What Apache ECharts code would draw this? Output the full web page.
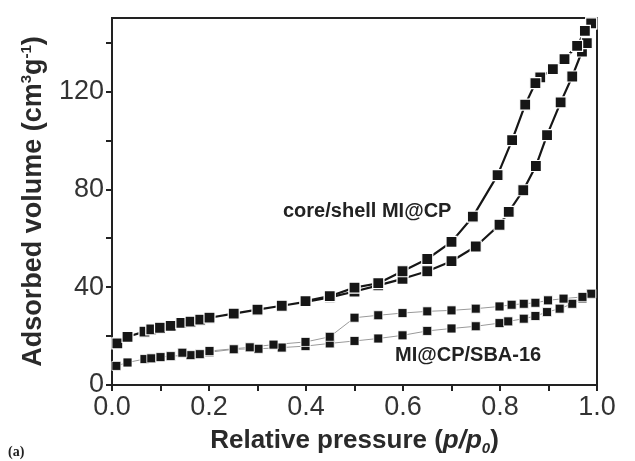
<!DOCTYPE html>
<html><head><meta charset="utf-8">
<script src="https://cdn.jsdelivr.net/npm/echarts@6/dist/echarts.min.js"></script>
<style>html,body{margin:0;padding:0;background:#fff}#c{width:635px;height:461px}</style>
</head><body><div id="c"></div>
<script>
// Core/shell MI@CP — adsorption branch [p/p0, volume]
var coreAds = [[0.011,17.0],[0.032,19.7],[0.067,21.8],[0.081,22.7],[0.099,23.4],[0.121,24.2],[0.143,25.4],[0.162,25.9],[0.182,26.7],[0.201,27.5],[0.251,29.2],[0.300,30.8],[0.350,32.4],[0.399,34.0],[0.449,35.8],[0.500,38.2],[0.549,40.7],[0.599,43.4],[0.650,46.5],[0.700,50.6],[0.750,56.6],[0.799,65.5],[0.818,70.8],[0.848,79.6],[0.874,89.5],[0.897,102.1],[0.925,115.5],[0.949,126.1],[0.969,136.3],[0.979,139.7],[0.988,147.8]];
// Core/shell MI@CP — desorption branch
var coreDes = [[0.988,147.8],[0.975,144.7],[0.959,138.6],[0.933,133.2],[0.909,129.1],[0.883,125.7],[0.873,123.4],[0.852,114.6],[0.825,100.1],[0.795,85.8],[0.744,68.8],[0.700,58.5],[0.650,51.5],[0.599,46.5],[0.549,41.6],[0.500,39.8],[0.449,36.3],[0.399,34.3]];
// MI@CP/SBA-16 — adsorption branch
var sbaAds = [[0.009,7.8],[0.032,9.2],[0.067,10.6],[0.081,10.9],[0.100,11.4],[0.121,11.8],[0.162,12.2],[0.181,12.6],[0.201,13.4],[0.251,14.6],[0.302,14.8],[0.350,15.3],[0.399,15.9],[0.449,17.0],[0.500,18.0],[0.549,19.0],[0.599,20.3],[0.650,22.1],[0.700,23.1],[0.750,24.0],[0.799,25.3],[0.817,26.0],[0.849,27.1],[0.873,28.2],[0.897,29.8],[0.923,31.2],[0.949,33.2],[0.970,35.4],[0.988,37.3]];
// MI@CP/SBA-16 — desorption branch
var sbaDes = [[0.988,37.3],[0.970,36.0],[0.931,35.3],[0.899,34.6],[0.873,33.6],[0.849,33.2],[0.824,32.8],[0.799,32.1],[0.750,31.2],[0.700,30.5],[0.650,30.1],[0.599,29.4],[0.549,28.5],[0.500,27.5],[0.449,19.7],[0.399,17.6],[0.333,16.5],[0.284,15.4],[0.201,13.9],[0.145,13.2]];
// Axis ticks and labels
var xTicks = [0,0.1,0.2,0.3,0.4,0.5,0.6,0.7,0.8,0.9,1.0];
var xLabels = [0,0.2,0.4,0.6,0.8,1.0];
var yTicks = [0,20,40,60,80,100,120,140];
var yLabels = [0,40,80,120];
var seriesLabels = ['core/shell MI@CP','MI@CP/SBA-16'];

var chart = echarts.init(document.getElementById('c'), null, {renderer:'canvas'});
var ink = '#161616';
var tickFont = {fontFamily:'Liberation Sans', fontSize:27, color:'#333'};
function coreSeries(d){return {type:'line', data:d, symbol:'rect', symbolSize:11, lineStyle:{color:ink,width:2.2}, itemStyle:{color:ink,borderColor:'#fff',borderWidth:1.2}, z:3, animation:false};}
function sbaSeries(d){return {type:'line', data:d, symbol:'rect', symbolSize:9, lineStyle:{color:'#9a9a9a',width:1}, itemStyle:{color:ink,borderColor:'#fff',borderWidth:0.8}, z:2, animation:false};}
var nameBold = {fontFamily:'Liberation Sans',fontWeight:'bold',fontSize:26,color:'#2a2a2a',lineHeight:30};
chart.setOption({
  animation:false,
  grid:{left:112,right:38,top:18,bottom:76,show:true,borderColor:'#222',borderWidth:2,backgroundColor:'transparent'},
  xAxis:{type:'value',min:0,max:1,
    axisLine:{lineStyle:{color:'#222',width:2}},
    axisTick:{show:true,inside:false,length:6,lineStyle:{color:'#222',width:2},customValues:xTicks},
    axisLabel:Object.assign({margin:9,customValues:xLabels,formatter:function(v){return v.toFixed(1);}},tickFont),
    splitLine:{show:false},
    name:'{b|Relative pressure (}{i|p/p}{s|0}{b|)}',nameLocation:'middle',nameGap:41,
    nameTextStyle:{rich:{b:nameBold,
      i:Object.assign({},nameBold,{fontStyle:'italic'}),
      s:{fontFamily:'Liberation Sans',fontWeight:'bold',fontStyle:'italic',fontSize:15,color:'#2a2a2a',lineHeight:15,verticalAlign:'bottom'}}}
  },
  yAxis:{type:'value',min:0,max:150,
    axisLine:{show:true,lineStyle:{color:'#222',width:2}},
    axisTick:{show:true,inside:false,length:6,lineStyle:{color:'#222',width:2},customValues:yTicks},
    axisLabel:Object.assign({margin:8,customValues:yLabels},tickFont),
    splitLine:{show:false},
    name:'{b|Adsorbed volume (cm}{s|3}{b|g}{s|-1}{b|)}',nameLocation:'middle',nameRotate:90,nameGap:63,
    nameTextStyle:{rich:{b:Object.assign({},nameBold,{fontSize:27}),
      s:{fontFamily:'Liberation Sans',fontWeight:'bold',fontSize:15,color:'#2a2a2a',lineHeight:15,verticalAlign:'top'}}}
  },
  series:[coreSeries(coreAds),coreSeries(coreDes),sbaSeries(sbaAds),sbaSeries(sbaDes)],
  graphic:[
    {type:'text',left:283,top:201,style:{text:seriesLabels[0],font:'bold 20px "Liberation Sans"',fill:'#222'}},
    {type:'text',left:395,top:345,style:{text:seriesLabels[1],font:'bold 20px "Liberation Sans"',fill:'#222'}},
    {type:'text',left:8,top:445,style:{text:'(a)',font:'bold 14px "Liberation Serif"',fill:'#222'}}
  ]
});
</script></body></html>
